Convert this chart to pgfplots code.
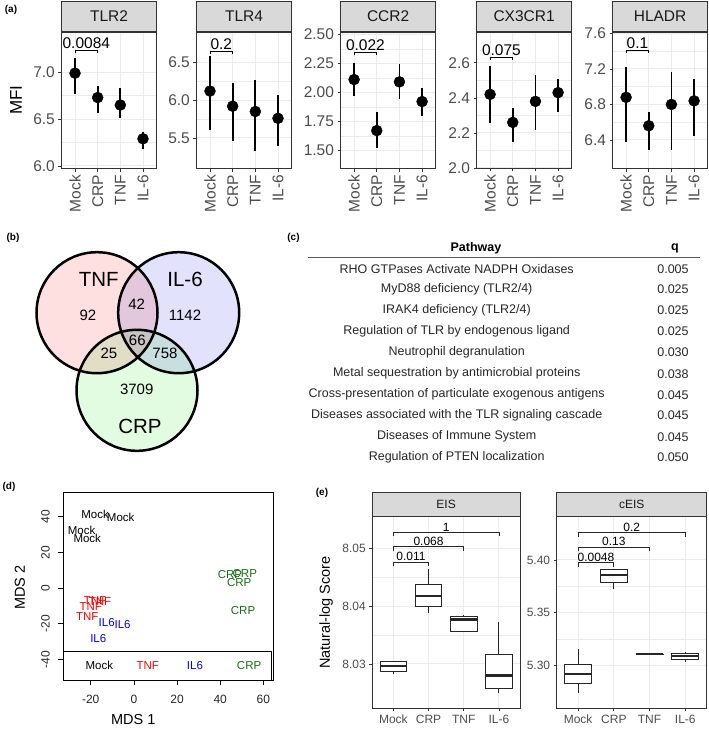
\documentclass[border=0pt]{standalone}
\usepackage{fontspec}
\setmainfont{Liberation Sans}
\usepackage{pgfplots}
\pgfplotsset{compat=1.18}
\newcommand\fs[1]{\fontsize{#1}{#1}\selectfont}
\definecolor{cT}{RGB}{255,224,224}
\definecolor{cI}{RGB}{226,226,252}
\definecolor{cC}{RGB}{226,252,226}
\definecolor{cTI}{RGB}{226,199,221}
\definecolor{cTC}{RGB}{226,221,199}
\definecolor{cIC}{RGB}{200,223,223}
\definecolor{cTIC}{RGB}{200,196,196}
\definecolor{rgreen}{RGB}{20,110,20}
% box: #1 left, #2 centre, #3 right, #4 lower whisker, #5 q1, #6 median, #7 q3, #8 upper whisker
\newcommand\bxp[8]{%
\addplot[draw=black!85, line width=0.8pt] coordinates {(#2,#4) (#2,#5)};
\addplot[draw=black!85, line width=0.8pt] coordinates {(#2,#7) (#2,#8)};
\addplot[draw=black!85, fill=white, line width=0.8pt] coordinates {(#1,#5) (#3,#5) (#3,#7) (#1,#7)} -- cycle;
\addplot[draw=black!85, line width=2.2pt] coordinates {(#1,#6) (#3,#6)};}
\pgfplotsset{
  /pgf/number format/assume math mode=true,
  facetA/.style={
    scale only axis, anchor=north west, width=95.2pt, height=136.5pt,
    xmin=0.4, xmax=4.6, xtick={1,2,3,4}, xticklabels={Mock,CRP,TNF,IL-6},
    axis line style={draw=black!80, line width=0.7pt},
    xmajorgrids, ymajorgrids, yminorgrids, minor y tick num=1,
    major grid style={draw=black!8, line width=1pt},
    minor grid style={draw=black!8, line width=0.5pt},
    tick pos=left, tick align=outside, major tick length=3pt, minor tick length=0pt,
    major tick style={draw=black!80, line width=0.7pt},
    ticklabel style={font=\fs{15.5}, text=black!70},
    xticklabel style={rotate=90, anchor=east},
    every axis title/.style={at={(0.5,1)}, anchor=south, draw=black!80, line width=0.7pt,
      fill=black!15, text=black!90, font=\fs{15.5}, minimum width=95.2pt,
      minimum height=30.5pt, inner sep=0pt},
  },
  facetE/.style={
    scale only axis, anchor=north west, height=191.6pt,
    xmin=0.4, xmax=4.6, xtick={1,2,3,4}, xticklabels={Mock,CRP,TNF,IL-6},
    axis line style={draw=black!80, line width=0.7pt},
    xmajorgrids, ymajorgrids, yminorgrids, minor y tick num=1,
    major grid style={draw=black!8, line width=1pt},
    minor grid style={draw=black!8, line width=0.5pt},
    tick pos=left, tick align=outside, major tick length=3pt, minor tick length=0pt,
    major tick style={draw=black!80, line width=0.7pt},
    ticklabel style={font=\fs{12}, text=black!70},
    every axis title/.style={at={(0.5,1)}, anchor=south, draw=black!80, line width=0.7pt,
      fill=black!15, text=black!90, font=\fs{12}, minimum width=#1,
      minimum height=24.4pt, inner sep=0pt},
    width=#1,
  },
  dotplot/.style={black, only marks, mark=*, mark size=5.5pt,
    error bars/.cd, y dir=both, y explicit, error mark=none,
    error bar style={line width=1.8pt, black}},
}
\begin{document}
\begin{tikzpicture}[x=1pt,y=1pt]
\path[use as bounding box] (0,0) rectangle (709,-729);

% ---------------- panel (a) ----------------
\node[font=\bfseries\fs{10}] at (11,-10) {(a)};
\node[rotate=90, font=\fs{17}, text=black] at (16,-100) {MFI};

\begin{axis}[facetA, at={(61.4pt,-32pt)}, title={TLR2},
  ymin=5.973, ymax=7.429, ytick={6,6.5,7}, yticklabels={6.0,6.5,7.0}]
\addplot[dotplot] table[x=x, y=y, y error plus expr=\thisrow{hi}-\thisrow{y}, y error minus expr=\thisrow{y}-\thisrow{lo}] {
x y hi lo
1 6.99 7.15 6.77
2 6.73 6.85 6.57
3 6.65 6.83 6.51
4 6.29 6.36 6.18
};
\addplot[black, line width=0.7pt] coordinates {(1,7.20) (1,7.23) (2,7.23) (2,7.20)};
\node[anchor=south, font=\fs{15.5}, inner sep=1.5pt] at (axis cs:1.5,7.23) {0.0084};
\end{axis}

\begin{axis}[facetA, at={(196.4pt,-32pt)}, title={TLR4},
  ymin=5.097, ymax=6.9, ytick={5.5,6,6.5}, yticklabels={5.5,6.0,6.5}]
\addplot[dotplot] table[x=x, y=y, y error plus expr=\thisrow{hi}-\thisrow{y}, y error minus expr=\thisrow{y}-\thisrow{lo}] {
x y hi lo
1 6.12 6.58 5.60
2 5.92 6.22 5.46
3 5.85 6.27 5.33
4 5.76 6.07 5.39
};
\addplot[black, line width=0.7pt] coordinates {(1,6.61) (1,6.65) (2,6.65) (2,6.61)};
\node[anchor=south, font=\fs{15.5}, inner sep=1.5pt] at (axis cs:1.5,6.65) {0.2};
\end{axis}

\begin{axis}[facetA, at={(340.5pt,-32pt)}, title={CCR2},
  ymin=1.343, ymax=2.52, ytick={1.5,1.75,2,2.25,2.5}, yticklabels={1.50,1.75,2.00,2.25,2.50}]
\addplot[dotplot] table[x=x, y=y, y error plus expr=\thisrow{hi}-\thisrow{y}, y error minus expr=\thisrow{y}-\thisrow{lo}] {
x y hi lo
1 2.11 2.25 1.97
2 1.67 1.83 1.52
3 2.09 2.24 1.94
4 1.92 2.04 1.80
};
\addplot[black, line width=0.7pt] coordinates {(1,2.319) (1,2.345) (2,2.345) (2,2.319)};
\node[anchor=south, font=\fs{15.5}, inner sep=1.5pt] at (axis cs:1.5,2.345) {0.022};
\end{axis}

\begin{axis}[facetA, at={(476.5pt,-32pt)}, title={CX3CR1},
  ymin=1.997, ymax=2.776, ytick={2,2.2,2.4,2.6}, yticklabels={2.0,2.2,2.4,2.6}]
\addplot[dotplot] table[x=x, y=y, y error plus expr=\thisrow{hi}-\thisrow{y}, y error minus expr=\thisrow{y}-\thisrow{lo}] {
x y hi lo
1 2.42 2.58 2.255
2 2.26 2.34 2.15
3 2.38 2.53 2.215
4 2.43 2.51 2.32
};
\addplot[black, line width=0.7pt] coordinates {(1,2.617) (1,2.634) (2,2.634) (2,2.617)};
\node[anchor=south, font=\fs{15.5}, inner sep=1.5pt] at (axis cs:1.5,2.634) {0.075};
\end{axis}

\begin{axis}[facetA, at={(612.5pt,-32pt)}, title={HLADR},
  ymin=6.079, ymax=7.615, ytick={6.4,6.8,7.2,7.6}, yticklabels={6.4,6.8,7.2,7.6}]
\addplot[dotplot] table[x=x, y=y, y error plus expr=\thisrow{hi}-\thisrow{y}, y error minus expr=\thisrow{y}-\thisrow{lo}] {
x y hi lo
1 6.88 7.225 6.38
2 6.56 6.71 6.29
3 6.80 7.16 6.29
4 6.84 7.09 6.45
};
\addplot[black, line width=0.7pt] coordinates {(1,7.376) (1,7.41) (2,7.41) (2,7.376)};
\node[anchor=south, font=\fs{15.5}, inner sep=1.5pt] at (axis cs:1.5,7.41) {0.1};
\end{axis}

% ---------------- panel (b) Venn ----------------
\node[font=\bfseries\fs{10}] at (13,-238) {(b)};
\begin{axis}[hide axis, scale only axis, anchor=north west, at={(30pt,-245pt)},
  width=180pt, height=215pt, xmin=30, xmax=210, ymin=-460, ymax=-245]
\addplot[draw=none, forget plot] coordinates {(97,-312.7) (178.7,-312.7) (137,-390.3)};
\coordinate (cTNF) at (axis cs:97,-312.7);
\coordinate (cIL) at (axis cs:178.7,-312.7);
\coordinate (cCRP) at (axis cs:137,-390.3);
\end{axis}
\def\R{60.5}
\fill[cT] (cTNF) circle[radius=\R];
\fill[cI] (cIL) circle[radius=\R];
\fill[cC] (cCRP) circle[radius=\R];
\begin{scope}\clip (cTNF) circle[radius=\R]; \fill[cTI] (cIL) circle[radius=\R]; \fill[cTC] (cCRP) circle[radius=\R];\end{scope}
\begin{scope}\clip (cIL) circle[radius=\R]; \fill[cIC] (cCRP) circle[radius=\R];\end{scope}
\begin{scope}\clip (cTNF) circle[radius=\R]; \clip (cIL) circle[radius=\R]; \fill[cTIC] (cCRP) circle[radius=\R];\end{scope}
\draw[line width=2.5pt] (cTNF) circle[radius=\R];
\draw[line width=2.5pt] (cIL) circle[radius=\R];
\draw[line width=2.5pt] (cCRP) circle[radius=\R];
\node[font=\fs{20.5}] at (98.7,-279) {TNF};
\node[font=\fs{20.5}] at (185,-279) {IL-6};
\node[font=\fs{20.5}] at (140,-426.7) {CRP};
\node[font=\fs{15}] at (88,-315) {92};
\node[font=\fs{15}] at (136.7,-304) {42};
\node[font=\fs{15}] at (185,-315) {1142};
\node[font=\fs{15}] at (137.3,-340.7) {66};
\node[font=\fs{15}] at (109,-353.3) {25};
\node[font=\fs{15}] at (165,-353.3) {758};
\node[font=\fs{15}] at (136.7,-389.3) {3709};

% ---------------- panel (c) table ----------------
\node[font=\bfseries\fs{10}] at (293.5,-238) {(c)};
\node[font=\bfseries\fs{12.5}] at (476,-248.3) {Pathway};
\node[font=\bfseries\fs{12.5}] at (675,-248.3) {q};
\draw[black!65, line width=1.3pt] (308,-257.3) -- (700,-257.3);
\begin{scope}[every node/.style={font=\fs{12.5}, text=black!85}]
\node at (456.7,-268.7) {RHO GTPases Activate NADPH Oxidases};
\node at (456.7,-289.0) {MyD88 deficiency (TLR2/4)};
\node at (456.7,-310.0) {IRAK4 deficiency (TLR2/4)};
\node at (456.7,-331.0) {Regulation of TLR by endogenous ligand};
\node at (456.7,-352.3) {Neutrophil degranulation};
\node at (456.7,-373.7) {Metal sequestration by antimicrobial proteins};
\node at (456.7,-394.7) {Cross-presentation of particulate exogenous antigens};
\node at (456.7,-415.3) {Diseases associated with the TLR signaling cascade};
\node at (456.7,-436.7) {Diseases of Immune System};
\node at (456.7,-457.3) {Regulation of PTEN localization};
\node at (673,-268.7) {0.005};
\node at (673,-289.0) {0.025};
\node at (673,-310.0) {0.025};
\node at (673,-331.0) {0.025};
\node at (673,-352.3) {0.030};
\node at (673,-373.7) {0.038};
\node at (673,-394.7) {0.045};
\node at (673,-415.3) {0.045};
\node at (673,-436.7) {0.045};
\node at (673,-457.3) {0.050};
\end{scope}

% ---------------- panel (d) MDS ----------------
\node[font=\bfseries\fs{10}] at (9,-487) {(d)};
\node[rotate=90, font=\fs{14.5}] at (20,-587.7) {MDS 2};
\node[font=\fs{14.5}] at (133.3,-719.3) {MDS 1};
\begin{axis}[scale only axis, anchor=north west, at={(63.3pt,-492.3pt)},
  width=210pt, height=187.7pt,
  xmin=-32.7, xmax=64.6, ymin=-51.6, ymax=53.7,
  xtick={-20,0,20,40,60}, xticklabels={-20,0,20,40,60},
  ytick={-40,-20,0,20,40}, yticklabels={-40,-20,0,20,40},
  tick pos=left, tick align=outside, major tick length=5pt,
  major tick style={black, line width=0.6pt},
  axis line style={black, line width=0.7pt},
  ticklabel style={font=\fs{12}, text=black!85},
  xticklabel shift=7pt, yticklabel shift=5pt,
  yticklabel style={rotate=90, anchor=south},
  clip=false]
\addplot[only marks, mark=none, nodes near coords={Mock},
  every node near coord/.append style={anchor=center, font=\fs{11.5}, text=black}]
  coordinates {(-18.0,41.4) (-6.1,39.7) (-24.2,32.5) (-21.6,27.9)};
\addplot[only marks, mark=none, nodes near coords={TNF},
  every node near coord/.append style={anchor=center, font=\fs{11.5}, text=red}]
  coordinates {(-18.0,-7.3) (-15.7,-7.8) (-20.0,-10.3) (-21.6,-15.9)};
\addplot[only marks, mark=none, nodes near coords={IL6},
  every node near coord/.append style={anchor=center, font=\fs{11.5}, text=blue}]
  coordinates {(-12.6,-19.6) (-5.2,-20.3) (-16.5,-28.3)};
\addplot[only marks, mark=none, nodes near coords={CRP},
  every node near coord/.append style={anchor=center, font=\fs{11.5}, text=rgreen}]
  coordinates {(44.5,7.5) (51.4,8.4) (48.8,3.0) (50.6,-12.9)};
\draw[line width=0.7pt] (axis cs:-32.7,-35.35) rectangle (axis cs:63.8,-51.6);
\node[font=\fs{11.5}, text=black] at (axis cs:-16,-43.6) {Mock};
\node[font=\fs{11.5}, text=red] at (axis cs:6.4,-43.6) {TNF};
\node[font=\fs{11.5}, text=blue] at (axis cs:28.3,-43.6) {IL6};
\node[font=\fs{11.5}, text=rgreen] at (axis cs:53.4,-43.6) {CRP};
\end{axis}

% ---------------- panel (e) boxplots ----------------
\node[font=\bfseries\fs{10}] at (322,-493) {(e)};
\node[rotate=90, font=\fs{14.5}] at (326,-612.5) {Natural-log Score};
\begin{axis}[facetE=147.7pt, at={(372.3pt,-516.7pt)}, title={EIS},
  ymin=8.0223, ymax=8.0555, ytick={8.03,8.04,8.05}, yticklabels={8.03,8.04,8.05}]
\bxp{0.625}{1}{1.375}{8.0283}{8.0287}{8.0297}{8.0305}{8.0305}
\bxp{1.625}{2}{2.375}{8.0389}{8.0400}{8.0417}{8.0438}{8.0465}
\bxp{2.625}{3}{3.375}{8.0357}{8.0357}{8.0377}{8.0382}{8.0385}
\bxp{3.625}{4}{4.375}{8.0249}{8.0258}{8.0280}{8.0317}{8.0373}
\addplot[black!85, line width=0.7pt] coordinates {(1,8.0469) (1,8.0476) (2,8.0476) (2,8.0469)};
\addplot[black!85, line width=0.7pt] coordinates {(1,8.0496) (1,8.0503) (3,8.0503) (3,8.0496)};
\addplot[black!85, line width=0.7pt] coordinates {(1,8.0521) (1,8.0528) (4,8.0528) (4,8.0521)};
\node[anchor=south, font=\fs{12}, inner sep=1pt] at (axis cs:1.5,8.0476) {0.011};
\node[anchor=south, font=\fs{12}, inner sep=1pt] at (axis cs:2,8.0503) {0.068};
\node[anchor=south, font=\fs{12}, inner sep=1pt] at (axis cs:2.5,8.0528) {1};
\end{axis}

\begin{axis}[facetE=150pt, at={(556.7pt,-516.7pt)}, title={cEIS},
  ymin=5.2588, ymax=5.4412, ytick={5.30,5.35,5.40}, yticklabels={5.30,5.35,5.40}]
\bxp{0.625}{1}{1.375}{5.2730}{5.2826}{5.2914}{5.3007}{5.3152}
\bxp{1.625}{2}{2.375}{5.3724}{5.3787}{5.3857}{5.3911}{5.3911}
\bxp{2.625}{3}{3.375}{5.3099}{5.3099}{5.3102}{5.3105}{5.3105}
\bxp{3.625}{4}{4.375}{5.3032}{5.3057}{5.3089}{5.3111}{5.3120}
\addplot[black!85, line width=0.7pt] coordinates {(1,5.3936) (1,5.3974) (2,5.3974) (2,5.3936)};
\addplot[black!85, line width=0.7pt] coordinates {(1,5.4083) (1,5.4121) (3,5.4121) (3,5.4083)};
\addplot[black!85, line width=0.7pt] coordinates {(1,5.4222) (1,5.4260) (4,5.4260) (4,5.4222)};
\node[anchor=south, font=\fs{12}, inner sep=1pt] at (axis cs:1.5,5.3974) {0.0048};
\node[anchor=south, font=\fs{12}, inner sep=1pt] at (axis cs:2,5.4121) {0.13};
\node[anchor=south, font=\fs{12}, inner sep=1pt] at (axis cs:2.5,5.4260) {0.2};
\end{axis}
\end{tikzpicture}
\end{document}
